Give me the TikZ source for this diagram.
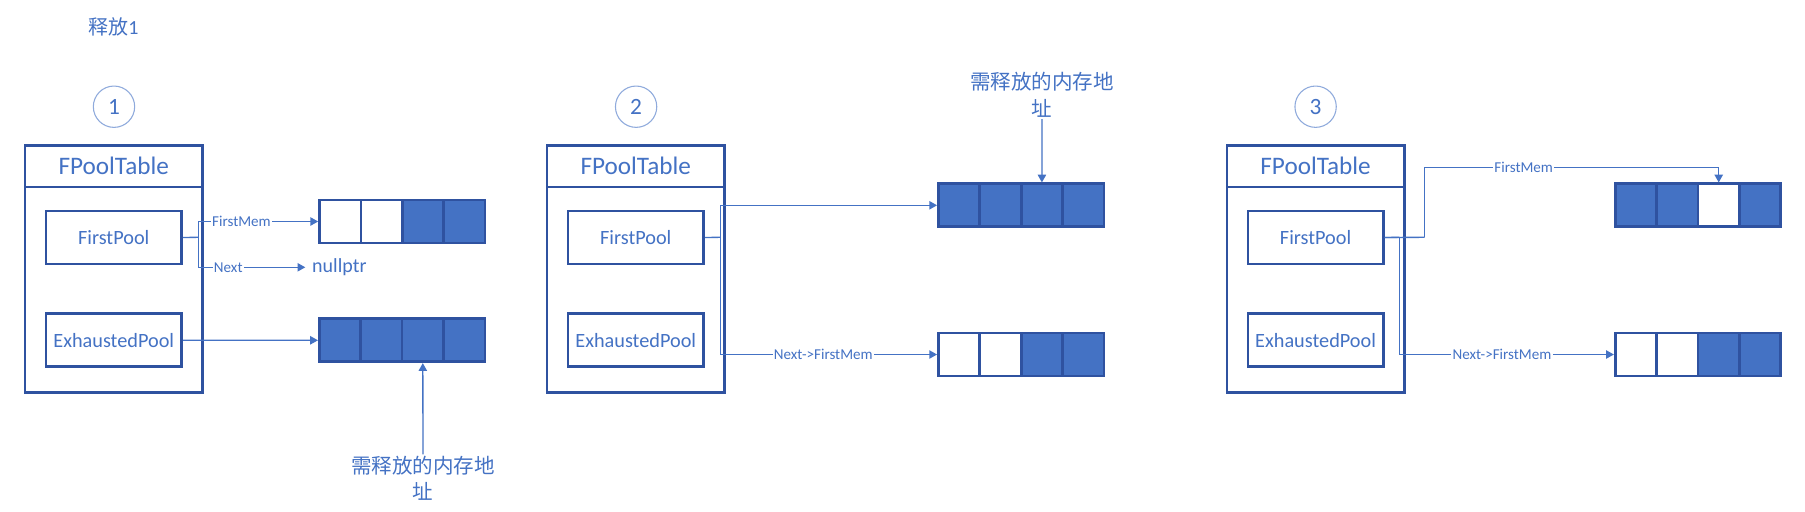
\documentclass[tikz,border=0pt]{standalone}
\usepackage{fontspec}
\setmainfont{Carlito}
\newfontfamily\cjk{Noto Sans CJK SC}
\usetikzlibrary{arrows.meta}
\definecolor{txtc}{HTML}{4472C4}
\definecolor{bdrc}{HTML}{2F52A0}
\definecolor{fillc}{HTML}{4472C4}
\definecolor{linec}{HTML}{4472C4}
\definecolor{circc}{HTML}{8FAADC}
\tikzset{
  tblhead/.style={draw=bdrc, line width=2pt, minimum width=133.1pt, minimum height=31.1pt, inner sep=0pt, text=txtc, font=\fontsize{18.9}{22}\selectfont},
  tblbody/.style={draw=bdrc, line width=2pt, minimum width=133.1pt, minimum height=154.1pt, inner sep=0pt},
  field/.style={draw=bdrc, line width=2pt, minimum width=101.6pt, minimum height=39.75pt, inner sep=0pt, text=txtc, font=\fontsize{15.2}{18}\selectfont},
  cellfull/.style={draw=bdrc, fill=fillc, line width=2pt, minimum width=31.05pt, minimum height=32.25pt, inner sep=0pt},
  cellempty/.style={cellfull, fill=white},
  conn/.style={draw=linec, line width=1pt},
  arr/.style={conn, -{Triangle[length=5.8pt,width=6.2pt]}},
  lbl/.style={fill=white, inner sep=1pt, text=txtc, font=\fontsize{11.3}{13}\selectfont},
  stepnum/.style={circle, draw=circc, line width=0.8pt, minimum size=31pt, inner sep=0pt, text=txtc, font=\fontsize{17.5}{20}\selectfont},
  note/.style={align=center, text=txtc, inner sep=1pt, font=\cjk\fontsize{15.4}{20}\selectfont},
  plain/.style={text=txtc, inner sep=0pt}
}
\newcommand{\memrow}[4]{\foreach \st [count=\i] in {#4} {\node[\st] (#1c\i) at ({#2+41.4*(\i-0.5)},#3) {};}}
\begin{document}
\begin{tikzpicture}[x=0.75pt, y=-0.75pt]
\fill[white] (0,0) rectangle (1805,511);
\useasboundingbox (0,0) rectangle (1805,511);

% title
\node[plain, anchor=west, font=\fontsize{15}{18}\selectfont] (title) at (88,26.7) {{\cjk 释放}1};

% ---------- panel 1 ----------
\node[stepnum] (n1) at (114,106.7) {1};
\node[tblbody] (TB1) at (113.75,289.75) {};
\node[tblhead] (H1) at (113.75,166.25) {FPoolTable};
\node[field] (FP1) at (113.75,237.5) {FirstPool};
\node[field] (EP1) at (113.75,340.25) {ExhaustedPool};
\memrow{A1}{319.5}{221.5}{cellempty,cellempty,cellfull,cellfull}
\memrow{B1}{319.3}{340.3}{cellfull,cellfull,cellfull,cellfull}
\node[plain, anchor=west, inner xsep=5pt, font=\fontsize{15}{18}\selectfont] (null1) at (305.3,267.3) {nullptr};
\coordinate (j1) at (198.3,237.3);
\draw[conn] (FP1.east) -- (j1);
\draw[arr] (j1) |- node[lbl, pos=0.68] {FirstMem} (A1c1.west);
\draw[arr] (j1) |- node[lbl, pos=0.64] {Next} (null1.west);
\draw[arr] (EP1.east) -- (B1c1.west);
\node[note] (rel1) at (423,478.3) {需释放的内存地\\址};
\draw[arr] (rel1.north) -- (B1c3.south);

% ---------- panel 2 ----------
\node[stepnum] (n2) at (636.1,106.7) {2};
\node[tblbody] (TB2) at (635.75,289.75) {};
\node[tblhead] (H2) at (635.75,166.25) {FPoolTable};
\node[field] (FP2) at (635.75,237.5) {FirstPool};
\node[field] (EP2) at (635.75,340.25) {ExhaustedPool};
\memrow{A2}{938.4}{205.3}{cellfull,cellfull,cellfull,cellfull}
\memrow{B2}{938.4}{354.5}{cellempty,cellempty,cellfull,cellfull}
\coordinate (j2) at (720.3,237.3);
\draw[conn] (FP2.east) -- (j2);
\draw[arr] (j2) |- (A2c1.west);
\draw[arr] (j2) |- node[lbl, pos=0.7375] {Next->FirstMem} (B2c1.west);
\node[note] (rel2) at (1042,95) {需释放的内存地\\址};
\draw[arr] (rel2.south) -- (A2c3.north);

% ---------- panel 3 ----------
\node[stepnum] (n3) at (1315.6,106.7) {3};
\node[tblbody] (TB3) at (1315.6,289.75) {};
\node[tblhead] (H3) at (1315.6,166.25) {FPoolTable};
\node[field] (FP3) at (1315.6,237.5) {FirstPool};
\node[field] (EP3) at (1315.6,340.25) {ExhaustedPool};
\memrow{A3}{1615.2}{205.3}{cellfull,cellfull,cellempty,cellfull}
\memrow{B3}{1615.2}{354.5}{cellempty,cellempty,cellfull,cellfull}
\coordinate (j3a) at (1424.6,237.3);
\coordinate (k3) at (1424.6,167.3);
\coordinate (j3b) at (1399.4,237.3);
\draw[conn] (FP3.east) -- (j3a);
\draw[arr] (j3a) -- (k3) -- node[lbl, pos=0.337] {FirstMem} (A3c3.north |- k3) -- (A3c3.north);
\draw[conn] (FP3.east) -- (j3b);
\draw[arr] (j3b) |- node[lbl, pos=0.739] {Next->FirstMem} (B3c1.west);
\end{tikzpicture}
\end{document}
